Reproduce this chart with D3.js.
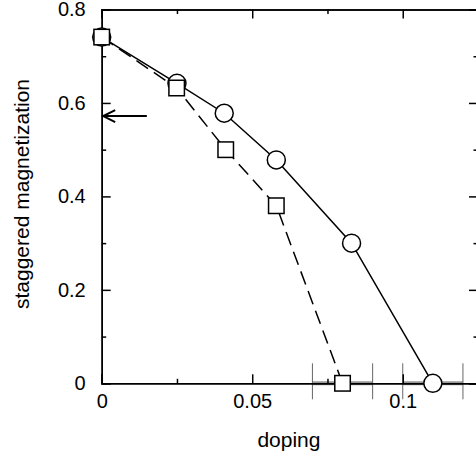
<!DOCTYPE html>
<html>
<head>
<meta charset="utf-8">
<script src="https://cdn.jsdelivr.net/npm/d3@7"></script>
<style>
  body { margin: 0; background: #fff; }
  svg { display: block; }
  text { font-family: "Liberation Sans", Arial, Helvetica, sans-serif; fill: #000; }
</style>
</head>
<body>
<svg id="chart"></svg>
<script>
const width = 476, height = 457;

// data
const dopingCircle = [0, 0.025, 0.0407, 0.058, 0.083, 0.11];
const magCircle = [0.741, 0.642, 0.578, 0.478, 0.30, 0];
const dopingSquare = [0, 0.0249, 0.0412, 0.058, 0.08];
const magSquare = [0.741, 0.632, 0.50, 0.38, 0];
// horizontal error bars on the zero points
const errDoping = [0.08, 0.11];
const errLow = [0.07, 0.10];
const errHigh = [0.09, 0.12];
// arrow marking the reference value
const arrowFrom = [0.015, 0.572];
const arrowTo = [0, 0.572];

const xMajor = [0, 0.05, 0.1];
const xMajorLabels = ["0", "0.05", "0.1"];
const xMinor = [0.025, 0.075, 0.125];
const yMajor = [0, 0.2, 0.4, 0.6, 0.8];
const yMajorLabels = ["0", "0.2", "0.4", "0.6", "0.8"];
const yMinor = [0.1, 0.3, 0.5, 0.7];

const margin = { left: 101.7, top: 9.5, bottom: 73.7 };
const plotW = 376.3;
const plotH = height - margin.top - margin.bottom;

const x = d3.scaleLinear().domain([0, 0.125]).range([0, plotW]);
const y = d3.scaleLinear().domain([0, 0.8]).range([plotH, 0]);

const svg = d3.select("#chart").attr("width", width).attr("height", height);
const g = svg.append("g").attr("transform", `translate(${margin.left},${margin.top})`);

// error bars (under everything)
const err = errDoping.map((d, i) => ({ x: d, lo: errLow[i], hi: errHigh[i] }));
g.append("g").selectAll("line")
    .data(err)
    .join("line")
    .attr("x1", d => x(d.lo))
    .attr("x2", d => x(d.hi))
    .attr("y1", y(0))
    .attr("y2", y(0))
    .attr("stroke", "#999")
    .attr("stroke-width", 4);
err.forEach(d => {
    [d.lo, d.hi].forEach(v => {
        g.append("line")
            .attr("x1", x(v)).attr("x2", x(v))
            .attr("y1", y(0) - 20).attr("y2", y(0) + 16)
            .attr("stroke", "#666")
            .attr("stroke-width", 1);
    });
});

// axes, ticks pointing inward
function styleAxis(sel) {
    sel.select(".domain").attr("stroke", "#000").attr("stroke-width", 1.5);
    sel.selectAll(".tick line").attr("stroke", "#000").attr("stroke-width", 1.5);
    sel.selectAll("text").attr("font-size", 20).attr("font-family", null).attr("fill", "#000");
}

g.append("g")
    .attr("transform", `translate(0,${plotH})`)
    .call(d3.axisBottom(x).tickValues(xMajor).tickSize(-9).tickPadding(10.5)
        .tickFormat((d, i) => xMajorLabels[i]))
    .call(styleAxis);
g.append("g")
    .attr("transform", `translate(0,${plotH})`)
    .call(d3.axisBottom(x).tickValues(xMinor).tickSize(-4.5).tickFormat(""))
    .call(styleAxis);
g.append("g")
    .call(d3.axisTop(x).tickValues(xMajor).tickSize(-9).tickFormat(""))
    .call(styleAxis);
g.append("g")
    .call(d3.axisTop(x).tickValues(xMinor).tickSize(-4.5).tickFormat(""))
    .call(styleAxis);

g.append("g")
    .call(d3.axisLeft(y).tickValues(yMajor).tickSize(-9).tickPadding(16)
        .tickFormat((d, i) => yMajorLabels[i]))
    .call(styleAxis);
g.append("g")
    .call(d3.axisLeft(y).tickValues(yMinor).tickSize(-4.5).tickFormat(""))
    .call(styleAxis);
g.append("g")
    .attr("transform", `translate(${plotW},0)`)
    .call(d3.axisRight(y).tickValues(yMajor).tickSize(-9).tickFormat(""))
    .call(styleAxis);
g.append("g")
    .attr("transform", `translate(${plotW},0)`)
    .call(d3.axisRight(y).tickValues(yMinor).tickSize(-4.5).tickFormat(""))
    .call(styleAxis);

// curves
const line = d3.line().x(d => x(d[0])).y(d => y(d[1]));
const circlePts = dopingCircle.map((d, i) => [d, magCircle[i]]);
const squarePts = dopingSquare.map((d, i) => [d, magSquare[i]]);

g.append("path")
    .datum(circlePts)
    .attr("d", line)
    .attr("fill", "none")
    .attr("stroke", "#000")
    .attr("stroke-width", 1.5);
g.append("path")
    .datum(squarePts)
    .attr("d", line)
    .attr("fill", "none")
    .attr("stroke", "#000")
    .attr("stroke-width", 1.5)
    .attr("stroke-dasharray", "14,7");

g.append("g").selectAll("circle")
    .data(circlePts)
    .join("circle")
    .attr("cx", d => x(d[0]))
    .attr("cy", d => y(d[1]))
    .attr("r", 9)
    .attr("fill", "#fff")
    .attr("stroke", "#000")
    .attr("stroke-width", 1.5);

const sq = 15.5;
g.append("g").selectAll("rect")
    .data(squarePts)
    .join("rect")
    .attr("x", d => x(d[0]) - sq / 2)
    .attr("y", d => y(d[1]) - sq / 2)
    .attr("width", sq)
    .attr("height", sq)
    .attr("fill", "#fff")
    .attr("stroke", "#000")
    .attr("stroke-width", 1.5);

// arrow
const ax0 = x(arrowFrom[0]), ay = y(arrowFrom[1]), ax1 = x(arrowTo[0]) + 1.5;
g.append("line")
    .attr("x1", ax0).attr("x2", ax1)
    .attr("y1", ay).attr("y2", ay)
    .attr("stroke", "#000").attr("stroke-width", 2);
g.append("path")
    .attr("d", `M${ax1 + 12},${ay - 6}L${ax1},${ay}L${ax1 + 12},${ay + 6}`)
    .attr("fill", "none")
    .attr("stroke", "#000")
    .attr("stroke-width", 2);

// axis titles
svg.append("text")
    .attr("x", margin.left + x(0.0622))
    .attr("y", 446.5)
    .attr("text-anchor", "middle")
    .attr("font-size", 21)
    .text("doping");
svg.append("text")
    .attr("transform", `translate(29,194) rotate(-90)`)
    .attr("text-anchor", "middle")
    .attr("font-size", 21)
    .text("staggered magnetization");
</script>
</body>
</html>
